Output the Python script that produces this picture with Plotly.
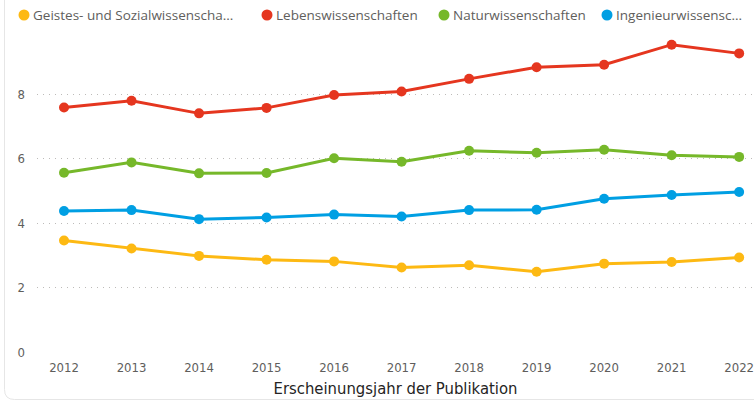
import plotly.graph_objects as go

years = [2012, 2013, 2014, 2015, 2016, 2017, 2018, 2019, 2020, 2021, 2022]
series_names = ["Geistes- und Sozialwissenscha...", "Lebenswissenschaften",
                "Naturwissenschaften", "Ingenieurwissensc..."]
geistes = [3.46, 3.21, 2.98, 2.86, 2.81, 2.62, 2.69, 2.49, 2.74, 2.79, 2.93]
leben = [7.58, 7.79, 7.40, 7.57, 7.97, 8.08, 8.47, 8.83, 8.91, 9.53, 9.26]
natur = [5.56, 5.88, 5.54, 5.55, 6.01, 5.90, 6.24, 6.18, 6.27, 6.10, 6.05]
ingenieur = [4.37, 4.40, 4.12, 4.17, 4.26, 4.20, 4.40, 4.41, 4.75, 4.87, 4.96]
colors = ["#FDB913", "#E5361F", "#76B82A", "#009FE3"]
y_ticks = [0, 2, 4, 6, 8]
x_title = "Erscheinungsjahr der Publikation"

W, H = 754, 402
ML, MR, MT, MB = 37, 0, 30, 50
PW, PH = W - ML - MR, H - MT - MB


def px(x):
    return (x - ML) / PW


def py(y):
    return (H - MB - y) / PH


fig = go.Figure()
for name, vals, col in zip(series_names, [geistes, leben, natur, ingenieur], colors):
    fig.add_trace(go.Scatter(
        x=years, y=vals, name=name, mode="lines+markers",
        line=dict(color=col, width=3),
        marker=dict(color=col, size=10),
        showlegend=False,
    ))

# manual legend (dot + text), matching the compact Power BI legend
legend_dot_x = [24, 267, 444, 607]
shapes = []
annotations = []
for name, col, dx in zip(series_names, colors, legend_dot_x):
    r = 5.5
    shapes.append(dict(type="circle", xref="paper", yref="paper",
                       x0=px(dx - r), x1=px(dx + r), y0=py(15 + r), y1=py(15 - r),
                       fillcolor=col, line=dict(width=0)))
    annotations.append(dict(text=name, xref="paper", yref="paper",
                            x=px(dx + r + 1), y=py(15), xanchor="left", yanchor="middle",
                            showarrow=False,
                            font=dict(family="Open Sans", size=13.5, color="#605E5C")))

# faint visual container border (left + bottom, rounded corner)
lx, by, rr = 4.5, 399.5, 10
shapes.append(dict(type="path", xref="paper", yref="paper",
                   path=f"M {px(lx)},{py(-5)} L {px(lx)},{py(by - rr)} "
                        f"Q {px(lx)},{py(by)} {px(lx + rr)},{py(by)} L {px(W + 5)},{py(by)}",
                   line=dict(color="#E6E6E6", width=1)))

fig.update_layout(
    width=W, height=H,
    margin=dict(l=ML, r=MR, t=MT, b=MB),
    paper_bgcolor="white", plot_bgcolor="white",
    shapes=shapes, annotations=annotations,
    xaxis=dict(range=[2011.6, 2022.22], tickmode="array", tickvals=years,
               ticktext=[str(y) for y in years], showgrid=False, zeroline=False,
               showline=False, ticks="", ticklabelstandoff=6, ticklabeloverflow="allow",
               tickfont=dict(family="DejaVu Sans Condensed", size=13, color="#605E5C"),
               title=dict(text=x_title, standoff=8,
                          font=dict(family="DejaVu Sans Condensed", size=16.5, color="#252423"))),
    yaxis=dict(range=[0, 9.985], tickmode="array", tickvals=y_ticks,
               showgrid=True, gridcolor="#BDBBB9", griddash="1px,5px", gridwidth=1,
               zeroline=False, showline=False, ticks="", ticklabelstandoff=11,
               tickfont=dict(family="DejaVu Sans Condensed", size=13, color="#605E5C")),
)

fig.write_html("out.html", config={"displayModeBar": False},
               post_script="document.body.style.margin='0';document.body.style.overflow='hidden';")
